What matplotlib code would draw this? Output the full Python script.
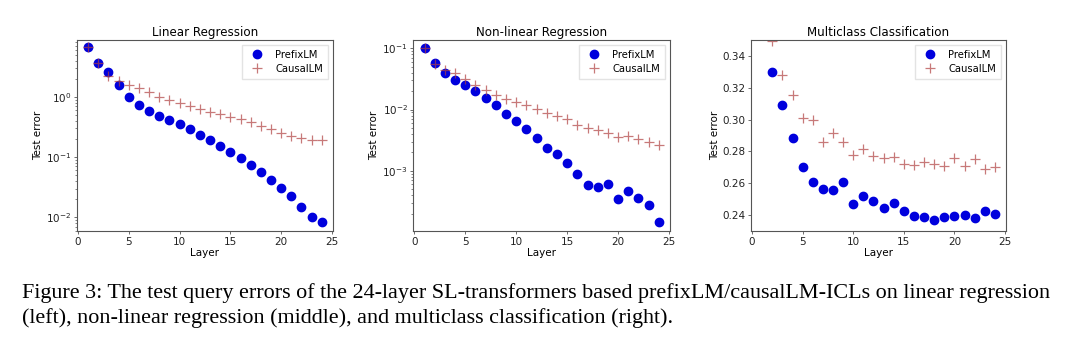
import matplotlib.pyplot as plt
import numpy as np

# layers
layers = np.arange(1, 25)
layers_cls = np.arange(2, 25)

# Linear regression test error
lin_prefix = [6.6, 3.7, 2.6, 1.6, 0.99, 0.74, 0.58, 0.48, 0.42, 0.355, 0.29, 0.236,
              0.19, 0.15, 0.12, 0.098, 0.075, 0.057, 0.042, 0.031, 0.023, 0.0147, 0.010, 0.0085]
lin_causal = [6.6, 3.7, 2.2, 1.83, 1.6, 1.38, 1.18, 1.01, 0.89, 0.79, 0.70, 0.63,
              0.57, 0.52, 0.47, 0.43, 0.38, 0.33, 0.29, 0.25, 0.224, 0.21, 0.195, 0.19]

# Non-linear regression test error
nl_prefix = [0.1, 0.0575, 0.040, 0.030, 0.0254, 0.020, 0.0157, 0.0118, 0.0086, 0.0064,
             0.0049, 0.0034, 0.00236, 0.00188, 0.00134, 0.00090, 0.00059, 0.00055,
             0.00062, 0.000347, 0.000476, 0.000365, 0.000277, 0.000144]
nl_causal = [0.1, 0.055, 0.045, 0.039, 0.031, 0.025, 0.0208, 0.0172, 0.0151, 0.0134,
             0.0119, 0.0103, 0.0088, 0.0080, 0.0071, 0.0057, 0.0050, 0.0046, 0.0042,
             0.00356, 0.0037, 0.00326, 0.00295, 0.00264]

# Multiclass classification test error (layer 1 is off the chart)
cls_prefix = [0.330, 0.309, 0.2887, 0.2701, 0.2607, 0.2567, 0.2561, 0.2609, 0.2467,
              0.2523, 0.2492, 0.2444, 0.2475, 0.2425, 0.2396, 0.2390, 0.2371, 0.2390,
              0.2396, 0.2404, 0.2381, 0.2425, 0.2406]
cls_causal = [0.3496, 0.3281, 0.3155, 0.3007, 0.2998, 0.2858, 0.2915, 0.2858, 0.2779,
              0.2814, 0.2774, 0.2758, 0.2764, 0.2724, 0.2718, 0.2735, 0.2724, 0.2710,
              0.2760, 0.2710, 0.2750, 0.2691, 0.2703]

titles = ['Linear Regression', 'Non-linear Regression', 'Multiclass Classification']
caption = ('Figure 3: The test query errors of the 24-layer SL-transformers based '
           'prefixLM/causalLM-ICLs on linear regression\n'
           '(left), non-linear regression (middle), and multiclass classification (right).')

plt.rcParams['font.family'] = ['DejaVu Sans']
plt.rcParams['axes.edgecolor'] = '#555555'
plt.rcParams['xtick.color'] = '#555555'
plt.rcParams['ytick.color'] = '#555555'
plt.rcParams['xtick.labelcolor'] = '#222222'
plt.rcParams['ytick.labelcolor'] = '#222222'

fig = plt.figure(figsize=(10.8, 3.47), dpi=100)

# axes boxes (left, bottom, width, height)
boxes = [[0.0713, 0.334, 0.237, 0.551],
         [0.3827, 0.334, 0.2377, 0.551],
         [0.6954, 0.334, 0.2361, 0.551]]

data = [(layers, lin_prefix, lin_causal),
        (layers, nl_prefix, nl_causal),
        (layers_cls, cls_prefix, cls_causal)]

for i, (box, (x, p, c)) in enumerate(zip(boxes, data)):
    ax = fig.add_axes(box)
    ax.plot(x, p, 'o', color='#0000dd', markersize=6, label='PrefixLM', linestyle='none')
    ax.plot(x, c, '+', color='#b04040', alpha=0.7, markersize=7, markeredgewidth=0.9,
            label='CausalLM', linestyle='none')
    ax.set_title(titles[i], fontsize=8.6, pad=3)
    ax.set_xlabel('Layer', fontsize=7.5, labelpad=1)
    ax.set_ylabel('Test error', fontsize=7.5, labelpad=2)
    ax.set_xlim(-0.1, 25.1)
    ax.set_xticks([0, 5, 10, 15, 20, 25])
    ax.tick_params(labelsize=7.5, length=2.5, width=0.6, pad=1.5)
    ax.tick_params(which='minor', length=1.5, width=0.5)
    for s in ax.spines.values():
        s.set_linewidth(0.8)
    if i == 0:
        ax.set_yscale('log')
        ax.set_ylim(0.0059, 8.8)
    elif i == 1:
        ax.set_yscale('log')
        ax.set_ylim(1.04e-4, 0.137)
    else:
        ax.set_ylim(0.23, 0.35)
        ax.set_yticks([0.24, 0.26, 0.28, 0.30, 0.32, 0.34])
    ax.legend(loc='upper right', fontsize=7.2, handletextpad=0.8, borderpad=0.5,
              labelspacing=0.4, fancybox=False, edgecolor='#dddddd')

fig.text(0.02, 0.185, caption, fontsize=15.9, family='Liberation Serif',
         va='top', ha='left', linespacing=1.38)

plt.savefig('out.png', dpi=100)
